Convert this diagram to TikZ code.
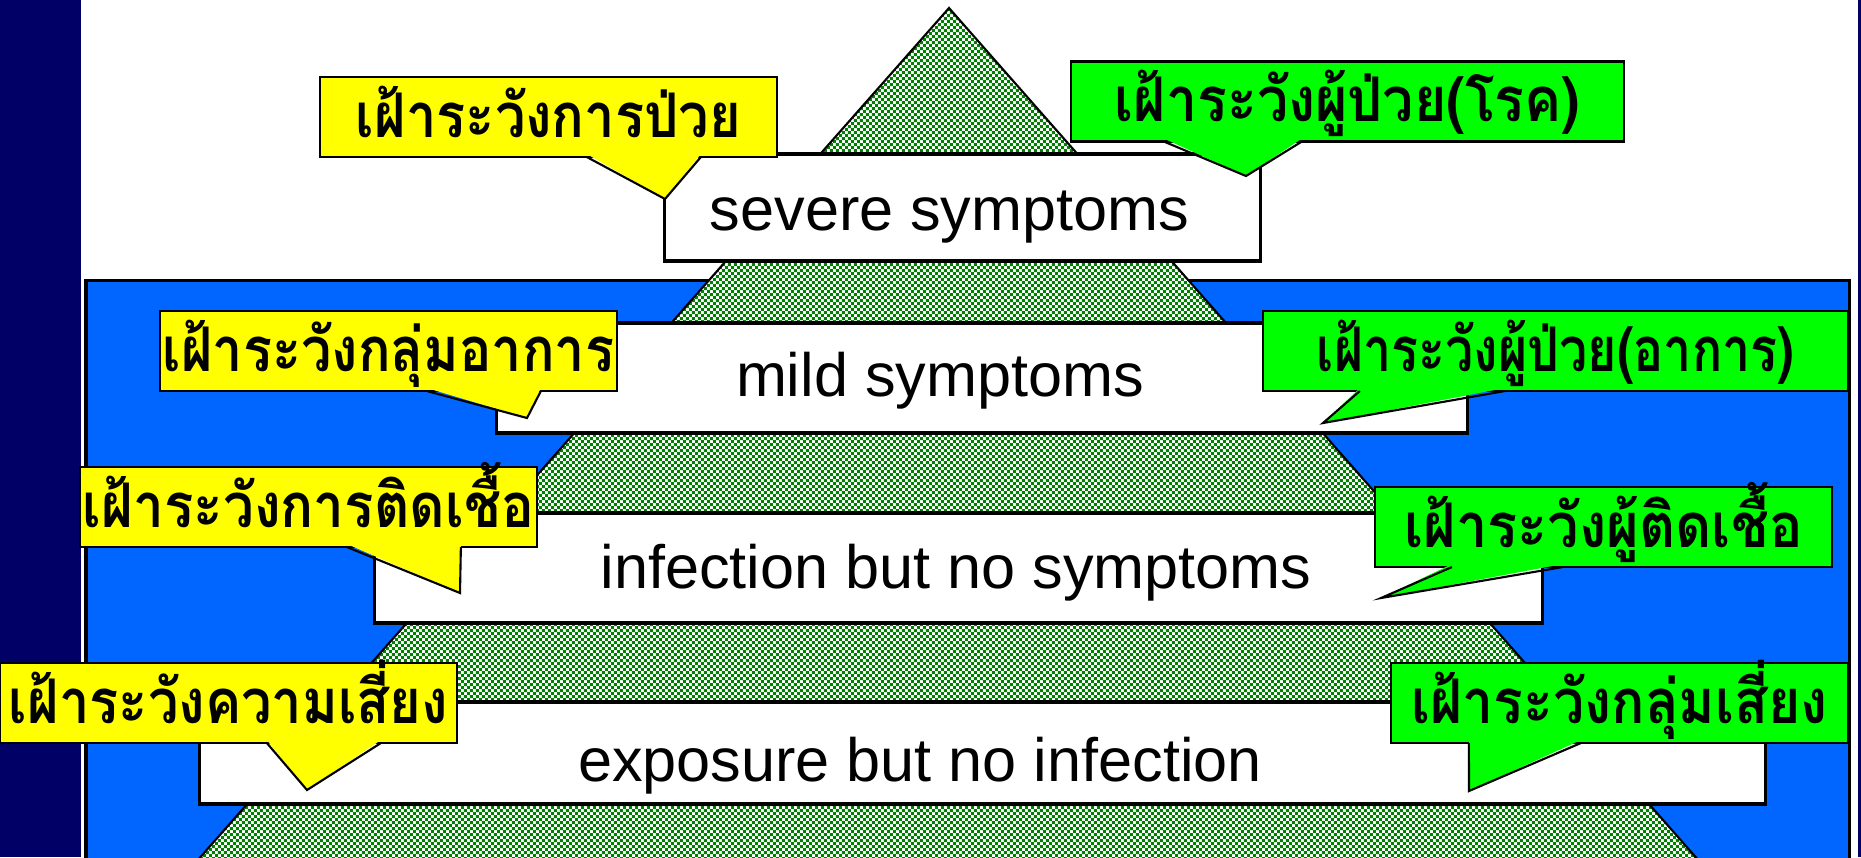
\documentclass[tikz,border=0pt]{standalone}
\usepackage{fontspec}
\setmainfont{Liberation Sans}
\newfontfamily\thaifont[Script=Thai]{Loma}
\usetikzlibrary{calc,patterns.meta}
\definecolor{bgNavy}{HTML}{000066}
\definecolor{bgBlue}{HTML}{0066FF}
\definecolor{pyrGreen}{HTML}{008000}
\definecolor{tagYellow}{HTML}{FFFF00}
\definecolor{tagGreen}{HTML}{00FF00}

\tikzdeclarepattern{
  name=pyrCheck,
  type=colored,
  bottom left={(0pt,0pt)},
  top right={(1.7pt,1.7pt)},
  tile size={(1.7pt,1.7pt)},
  code={
    \fill[white] (0pt,0pt) rectangle (1.7pt,1.7pt);
    \fill[pyrGreen] (0pt,0pt) rectangle (0.85pt,0.85pt);
    \fill[pyrGreen] (0.85pt,0.85pt) rectangle (1.7pt,1.7pt);
  }
}

\tikzset{
  level/.style={draw=black, line width=0.9pt, fill=white, inner sep=0pt, outer sep=0pt},
  leveltext/.style={font=\fontsize{17.4}{20}\selectfont, inner sep=0pt, anchor=base},
  tag/.style={draw=black, line width=0.6pt, inner sep=0pt, outer sep=0pt,
    minimum height=0.8cm, text height=0.4cm, text depth=0pt,
    font=\thaifont\bfseries\fontsize{17.5}{20}\selectfont},
  yellowtag/.style={tag, fill=tagYellow},
  greentag/.style={tag, fill=tagGreen},
  tipline/.style={draw=black, line width=0.6pt},
}

% squeeze the thai text to the width of the original
\newcommand{\tagfit}[2]{\resizebox{#1}{\height}{#2}}
% pointer of a speech tag: colour, tag, offset, base width, tip
\newcommand{\tagtip}[5]{%
  \fill[#1] ($(#2.south west)+(#3,-3)$) -- ($(#2.south west)+(#3+#4,-3)$) -- (#5) -- cycle;
  \draw[tipline] ($(#2.south west)+(#3,0)$) -- (#5) -- ($(#2.south west)+(#3+#4,0)$);
}

\begin{document}
\begin{tikzpicture}[x=0.01cm, y=-0.01cm]
  \useasboundingbox (0,0) rectangle (1861,857);
  \clip (0,0) rectangle (1861,857);
  \fill[white] (0,0) rectangle (1861,857);
  \fill[bgNavy] (0,0) rectangle (80.5,857);
  \fill[bgNavy] (1858,0) rectangle (1861,857);
  \draw[fill=bgBlue, line width=1pt] (86,280.5) rectangle (1849.5,880);

  % pyramid
  \filldraw[pattern=pyrCheck, draw=black, line width=0.6pt] (949,8) -- (189,870) -- (1707,870) -- cycle;

  % levels
  \node[level, minimum width=5.95cm, minimum height=1.07cm] (severe) at (962.5,207.5) {};
  \node[level, minimum width=9.70cm, minimum height=1.10cm] (mild) at (982,378) {};
  \node[level, minimum width=11.67cm, minimum height=1.10cm] (infection) at (958.5,568) {};
  \node[level, minimum width=15.65cm, minimum height=1.02cm] (exposure) at (982.5,753) {};
  \node[leveltext] (severeText) at (949.5,230) {severe symptoms};
  \node[leveltext] (mildText) at (940,396) {mild symptoms};
  \node[leveltext] (infectionText) at (956,588) {infection but no symptoms};
  \node[leveltext] (exposureText) at (920,781) {exposure but no infection};

  % speech tags
  \node[yellowtag, minimum width=4.57cm] (watchIll) at (548.5,117) {\tagfit{3.85cm}{เฝ้าระวังการป่วย}};
  \coordinate (watchIllTip) at (665,199);
  \tagtip{tagYellow}{watchIll}{267}{114}{watchIllTip}

  \node[greentag, minimum width=5.53cm] (watchPatient) at (1347.5,101.5) {\tagfit{4.65cm}{เฝ้าระวังผู้ป่วย(โรค)}};
  \coordinate (watchPatientTip) at (1246,176);
  \tagtip{tagGreen}{watchPatient}{93}{138}{watchPatientTip}

  \node[yellowtag, minimum width=4.57cm] (watchSyndrome) at (388.5,351) {\tagfit{4.51cm}{เฝ้าระวังกลุ่มอาการ}};
  \coordinate (watchSyndromeTip) at (527,418);
  \tagtip{tagYellow}{watchSyndrome}{267}{114}{watchSyndromeTip}

  \node[greentag, minimum width=5.85cm] (watchSymptom) at (1555.5,351) {\tagfit{4.77cm}{เฝ้าระวังผู้ป่วย(อาการ)}};
  \coordinate (watchSymptomTip) at (1323,423);
  \tagtip{tagGreen}{watchSymptom}{97}{145}{watchSymptomTip}

  \node[yellowtag, minimum width=4.57cm] (watchInfection) at (308.5,507) {\tagfit{4.51cm}{เฝ้าระวังการติดเชื้อ}};
  \coordinate (watchInfectionTip) at (460,593);
  \tagtip{tagYellow}{watchInfection}{267}{114}{watchInfectionTip}

  \node[greentag, minimum width=4.57cm] (watchInfected) at (1603.5,527) {\tagfit{3.98cm}{เฝ้าระวังผู้ติดเชื้อ}};
  \coordinate (watchInfectedTip) at (1381,598);
  \tagtip{tagGreen}{watchInfected}{77}{111}{watchInfectedTip}

  \node[yellowtag, minimum width=4.57cm] (watchRisk) at (228.5,703) {\tagfit{4.39cm}{เฝ้าระวังความเสี่ยง}};
  \coordinate (watchRiskTip) at (307,790);
  \tagtip{tagYellow}{watchRisk}{267}{114}{watchRiskTip}

  \node[greentag, minimum width=4.57cm] (watchRiskGroup) at (1619.5,703) {\tagfit{4.16cm}{เฝ้าระวังกลุ่มเสี่ยง}};
  \coordinate (watchRiskGroupTip) at (1469,791);
  \tagtip{tagGreen}{watchRiskGroup}{78}{112}{watchRiskGroupTip}
\end{tikzpicture}
\end{document}
